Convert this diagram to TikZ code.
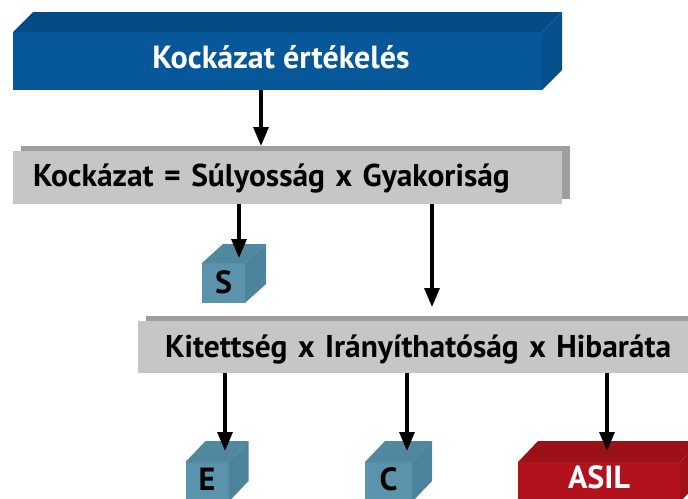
\documentclass[tikz,border=0pt]{standalone}
\usepackage{fontspec}
\setmainfont{PT Sans}
\usetikzlibrary{arrows.meta,backgrounds}

\definecolor{bluefront}{RGB}{6,88,154}
\definecolor{bluetop}{RGB}{4,76,134}
\definecolor{blueside}{RGB}{5,80,140}
\definecolor{grayfront}{RGB}{198,198,198}
\definecolor{grayback}{RGB}{158,158,158}
\definecolor{cubefront}{RGB}{90,147,171}
\definecolor{cubetop}{RGB}{80,136,160}
\definecolor{cubeside}{RGB}{76,132,158}
\definecolor{redfront}{RGB}{178,18,30}
\definecolor{redtop}{RGB}{154,18,24}
\definecolor{redside}{RGB}{160,16,22}

% top and right faces of an extruded box: node, dx, dy, top colour, side colour
\newcommand\boxfaces[5]{%
  \fill[#4] (#1.north west) -- ++(#2,#3) -- ([shift={(#2,#3)}]#1.north east) -- (#1.north east) -- cycle;
  \fill[#5] (#1.north east) -- ([shift={(#2,#3)}]#1.north east) -- ([shift={(#2,#3)}]#1.south east) -- (#1.south east) -- cycle;
}

\begin{document}
\begin{tikzpicture}[x=1pt,y=-1pt,
  face/.style={inner sep=0pt, outer sep=0pt, font=\fontsize{32}{32}\selectfont\bfseries},
  bar/.style={face, fill=grayfront, text=black, align=left, font=\fontsize{31.5}{32}\selectfont\bfseries},
  cube/.style={face, fill=cubefront, text=black, minimum width=43, minimum height=40},
  arr/.style={line width=3.2pt, -{Triangle[length=19pt,width=15pt]}}]
\useasboundingbox (0,0) rectangle (688,498);
\clip (0,0) rectangle (688,498);

% title block
\node[face, fill=bluefront, text=white, minimum width=529, minimum height=58,
  text height=20pt, text depth=6pt] (risk) at (277.5,61) {\hspace*{7pt}Kockázat értékelés};
\boxfaces{risk}{20}{-20}{bluetop}{blueside}

% formula bars with their offset shadows
\node[bar, text width=509, inner xsep=20, minimum height=53,
  text height=22pt, text depth=5pt] (formula) at (287.5,177.5) {Kockázat = Súlyosság x Gyakoriság};
\node[bar, text width=560, inner xsep=27, minimum height=52,
  text height=24pt, text depth=4pt] (factors) at (445,347) {Kitettség x Irányíthatóság x Hibaráta};
\begin{scope}[on background layer]
  \fill[grayback] ([shift={(8,-5)}]formula.south west) rectangle ([shift={(8,-5)}]formula.north east);
  \fill[grayback] ([shift={(8,-5)}]factors.south west) rectangle ([shift={(8,-5)}]factors.north east);
\end{scope}

% parameter cubes
\node[cube, text height=24pt, text depth=4pt] (S) at (223.5,283) {S};
\boxfaces{S}{21}{-19}{cubetop}{cubeside}
\node[cube, text height=22pt, text depth=6pt] (E) at (207,482) {E};
\boxfaces{E}{20}{-21}{cubetop}{cubeside}
\node[cube, minimum width=47, text height=22pt, text depth=6pt] (C) at (388.5,482) {C};
\boxfaces{C}{20}{-21}{cubetop}{cubeside}
\node[face, fill=redfront, text=white, minimum width=162, minimum height=40,
  text height=20pt, text depth=8pt] (asil) at (599,482) {ASIL};
\boxfaces{asil}{20}{-21}{redtop}{redside}

% connectors
\coordinate (c1) at (261,0);
\coordinate (c2) at (239,0);
\coordinate (c3) at (432,0);
\coordinate (c4) at (225,0);
\coordinate (c5) at (407,0);
\coordinate (c6) at (607,0);
\draw[arr] (risk.south -| c1) -- ([yshift=5pt]formula.north -| c1);
\draw[arr] (formula.south -| c2) -- ([yshift=5pt]S.north -| c2);
\draw[arr] (formula.south -| c3) -- ([yshift=14pt]factors.north -| c3);
\draw[arr] (factors.south -| c4) -- ([yshift=11pt]E.north -| c4);
\draw[arr] (factors.south -| c5) -- ([yshift=11pt]C.north -| c5);
\draw[arr] (factors.south -| c6) -- ([yshift=11pt]asil.north -| c6);
\end{tikzpicture}
\end{document}
